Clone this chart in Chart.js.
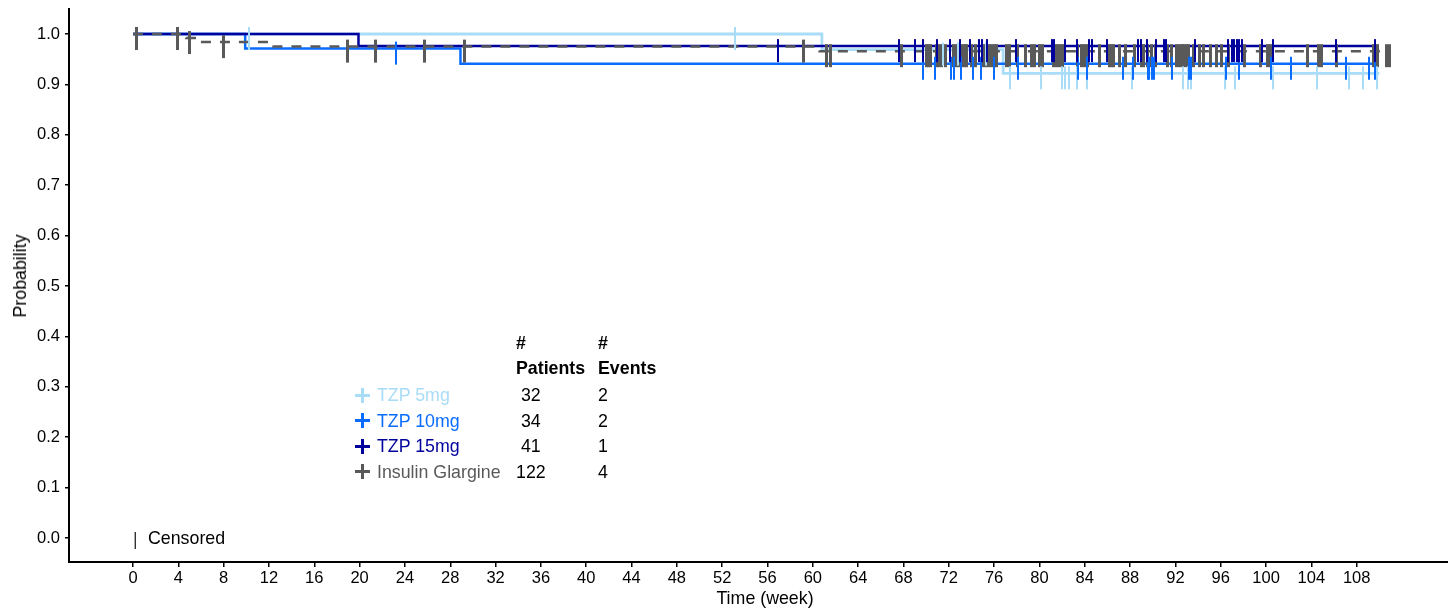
<!DOCTYPE html>
<html>
<head>
<meta charset="utf-8">
<script src="https://cdn.jsdelivr.net/npm/chart.js@4.4.0/dist/chart.umd.min.js"></script>
<style>
  body { margin: 0; background: #fff; }
  #wrap { position: relative; width: 1448px; height: 608px; font-family: 'Liberation Sans', Arial, sans-serif; }
  canvas { position: absolute; left: 0; top: 0; }
  .txt { position: absolute; font-size: 17.8px; line-height: 20px; white-space: pre; color: #000; }
  .hd { font-weight: bold; }
  .plus { position: absolute; width: 15px; height: 15px; }
  .plus:before, .plus:after { content: ''; position: absolute; background: currentColor; }
  .plus:before { left: 6px; top: 0; width: 3px; height: 15px; }
  .plus:after { left: 0; top: 6px; width: 15px; height: 3px; }
</style>
</head>
<body>
<div id="wrap">
  <canvas id="km" width="1448" height="608"></canvas>
  <div id="legend"></div>
</div>
<script>
const groups = ['TZP 5mg', 'TZP 10mg', 'TZP 15mg', 'Insulin Glargine'];
const colors = ['#a8dcf7', '#0a6cff', '#00009c', '#595959'];
const patients = [' 32', ' 34', ' 41', '122'];
const events = ['2', '2', '1', '4'];

const xTicks = [0, 4, 8, 12, 16, 20, 24, 28, 32, 36, 40, 44, 48, 52, 56, 60, 64, 68, 72, 76, 80, 84, 88, 92, 96, 100, 104, 108];
const yTicks = [0, 0.1, 0.2, 0.3, 0.4, 0.5, 0.6, 0.7, 0.8, 0.9, 1.0];

// step curves: time of each drop and survival after it
const tzp5Times = [0, 60.8, 76.8, 110.0];
const tzp5Surv = [1, 0.969, 0.922, 0.922];
const tzp10Times = [0, 9.9, 28.9, 109.9];
const tzp10Surv = [1, 0.971, 0.941, 0.941];
const tzp15Times = [0, 19.9, 109.9];
const tzp15Surv = [1, 0.976, 0.976];
const glargineTimes = [0, 4.7, 5.7, 12.4, 60.6, 110.9];
const glargineSurv = [1, 0.992, 0.984, 0.975, 0.966, 0.966];

// censoring times (weeks)
const tzp5Censor = [10.2, 53.1, 71.5, 72.8, 75.3, 77.4, 80.1, 82.0, 82.3, 82.6, 83.3, 84.2, 88.2, 92.7, 93.1, 93.4, 96.4, 97.3, 100.6, 104.5, 107.3, 108.6, 109.8];
const tzp10Censor = [23.2, 69.7, 70.8, 72.2, 72.5, 73.1, 74.1, 74.8, 76.0, 78.1, 83.4, 84.2, 87.4, 88.3, 89.6, 89.7, 89.9, 90.1, 91.7, 93.2, 93.4, 96.5, 97.6, 100.4, 102.2, 107.1, 109.1, 109.6];
const tzp15Censor = [56.9, 67.6, 69.0, 69.7, 71.0, 72.1, 73.0, 73.9, 74.7, 74.9, 75.4, 77.9, 81.1, 81.3, 82.3, 83.3, 84.4, 84.6, 86.0, 88.7, 89.0, 89.5, 90.3, 91.0, 91.2, 93.7, 96.6, 97.0, 97.2, 97.4, 97.6, 97.9, 99.6, 100.6, 106.2, 109.6];
const glargineCensor = [0.3, 3.9, 5.0, 8.0, 18.9, 21.4, 25.7, 29.3, 59.2, 61.2, 61.6, 67.8, 70.0, 70.2, 70.4, 70.9, 71.1, 71.4, 71.7, 72.4, 72.7, 72.9, 73.1, 73.4, 73.6, 74.0, 74.4, 75.0, 75.2, 75.5, 75.8, 76.0, 76.2, 77.1, 77.4, 78.1, 78.8, 79.3, 79.6, 80.0, 80.3, 81.2, 81.5, 81.8, 82.0, 83.4, 83.7, 84.0, 84.2, 85.3, 86.2, 86.4, 86.5, 87.1, 87.6, 88.4, 89.0, 89.2, 89.5, 89.9, 90.2, 91.3, 91.7, 92.1, 92.4, 92.6, 92.7, 93.0, 93.2, 93.6, 94.1, 94.5, 95.1, 95.6, 96.1, 96.7, 98.1, 99.5, 100.1, 100.4, 103.7, 104.6, 104.9, 106.2, 109.5, 109.8, 110.6, 110.9];

const curves = [
  { times: tzp5Times, surv: tzp5Surv, censor: tzp5Censor },
  { times: tzp10Times, surv: tzp10Surv, censor: tzp10Censor },
  { times: tzp15Times, surv: tzp15Surv, censor: tzp15Censor },
  { times: glargineTimes, surv: glargineSurv, censor: glargineCensor }
];

function survAt(times, surv, t) {
  let s = surv[0];
  for (let i = 0; i < times.length; i++) if (times[i] <= t) s = surv[i];
  return s;
}

// vertical censor tick, sits a little below the curve like the original
function tickMark(color, w) {
  const c = document.createElement('canvas');
  c.width = w; c.height = 34;
  const g = c.getContext('2d');
  g.fillStyle = color;
  g.fillRect(0, 10, w, 23);
  return c;
}

const lineOrder = [7, 6, 5, 4];
const markOrder = [2, 1, 0, 3];
const datasets = [];
curves.forEach((cv, i) => {
  datasets.push({
    label: groups[i],
    data: cv.times.map((t, k) => ({ x: t, y: cv.surv[k] })),
    borderColor: colors[i],
    borderWidth: i === 0 ? 2.8 : 2.5,
    borderDash: i === 3 ? [10, 9] : [],
    stepped: 'before',
    pointRadius: 0,
    fill: false,
    order: lineOrder[i]
  });
  datasets.push({
    label: groups[i] + ' censored',
    data: cv.censor.map(t => ({ x: t, y: survAt(cv.times, cv.surv, t) })),
    showLine: false,
    pointStyle: tickMark(colors[i], i === 3 ? 3 : 2),
    pointRadius: 3,
    order: markOrder[i]
  });
});

const font = { family: "'Liberation Sans', Arial, sans-serif", size: 16.5 };

new Chart(document.getElementById('km'), {
  type: 'line',
  data: { datasets: datasets },
  options: {
    responsive: false,
    animation: false,
    events: [],
    layout: { autoPadding: false, padding: { top: 9, right: 0, left: 0, bottom: 0 } },
    plugins: { legend: { display: false }, tooltip: { enabled: false } },
    scales: {
      x: {
        type: 'linear',
        min: -5.65,
        max: 116.06,
        afterFit: s => { s.height = 46; s.paddingLeft = 0; s.paddingRight = 0; },
        afterBuildTicks: s => { s.ticks = xTicks.map(v => ({ value: v })); },
        grid: { drawOnChartArea: false, drawTicks: true, tickLength: 5, color: '#000', lineWidth: 1.5 },
        border: { display: true, color: '#000', width: 2 },
        ticks: { color: '#000', font: font, padding: 2, autoSkip: false, maxRotation: 0, callback: v => v }
      },
      y: {
        min: -0.0476,
        max: 1.0496,
        afterFit: s => { s.width = 69; s.paddingTop = 0; s.paddingBottom = 0; },
        afterBuildTicks: s => { s.ticks = yTicks.map(v => ({ value: v })); },
        grid: { drawOnChartArea: false, drawTicks: true, tickLength: 4, color: '#000', lineWidth: 1.5 },
        border: { display: true, color: '#000', width: 2 },
        ticks: { color: '#000', font: font, padding: 5, callback: v => v.toFixed(1) }
      }
    }
  }
});

// legend table and axis titles
const legend = document.getElementById('legend');
function addText(text, x, yc, color, cls) {
  const d = document.createElement('div');
  d.className = 'txt' + (cls ? ' ' + cls : '');
  d.textContent = text;
  d.style.left = x + 'px';
  d.style.top = (yc - 10) + 'px';
  if (color) d.style.color = color;
  legend.appendChild(d);
  return d;
}
addText('#', 516, 343, null, 'hd');
addText('#', 598, 343, null, 'hd');
addText('Patients', 516, 368, null, 'hd');
addText('Events', 598, 368, null, 'hd');
const rowY = [395, 420.5, 446, 471.5];
groups.forEach((g, i) => {
  const p = document.createElement('div');
  p.className = 'plus';
  p.style.left = '355px';
  p.style.top = (rowY[i] - 7.5) + 'px';
  p.style.color = colors[i];
  legend.appendChild(p);
  addText(g, 377, rowY[i], colors[i]);
  addText(patients[i], 516, rowY[i]);
  addText(events[i], 598, rowY[i]);
});
addText('|', 133, 539, '#333');
addText('Censored', 148, 538);
const xt = addText('Time (week)', 765, 598);
xt.style.transform = 'translateX(-50%)';
const yt = addText('Probability', 20, 276);
yt.style.transform = 'translate(-50%, 0) rotate(-90deg)';
yt.style.transformOrigin = '50% 50%';
</script>
</body>
</html>
